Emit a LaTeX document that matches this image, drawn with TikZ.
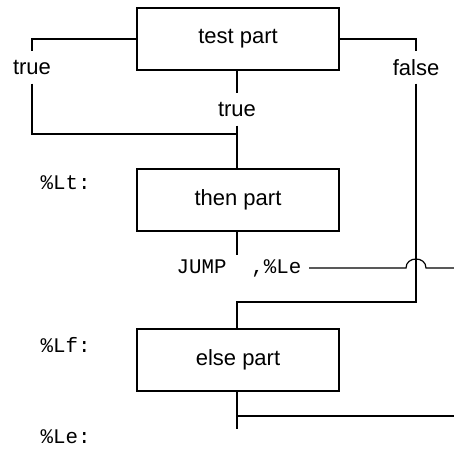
\documentclass[tikz,border=0pt]{standalone}
\usepackage{fontspec}
\setmainfont{Liberation Sans}
\newfontfamily\codefont{Liberation Mono}
\begin{document}
\begin{tikzpicture}[x=1pt,y=-1pt,line width=1.2pt,
  part/.style={draw,minimum width=202pt,minimum height=62pt,inner sep=0pt,font=\fontsize{22}{24}\selectfont},
  lbl/.style={inner sep=0pt,minimum height=31pt,font=\fontsize{22}{24}\selectfont},
  code/.style={inner sep=0pt,font=\codefont\fontsize{20.8}{22}\selectfont}]
\useasboundingbox (0,0) rectangle (454,450);
% boxes
\node[part] (test) at (238,39) {test part};
\node[part] (then) at (238,200) {then part};
\node[part] (else) at (238,360) {else part};
% branch labels
\node[lbl] (ltrue) at (32,67.5) {true};
\node[lbl] (mtrue) at (237,109.5) {true};
\node[lbl] (lfalse) at (416,67.5) {false};
% code labels
\node[code,anchor=west] (lt) at (40,183) {\%Lt:};
\node[code,anchor=west] (lf) at (40,345) {\%Lf:};
\node[code,anchor=west] (le) at (40,437) {\%Le:};
\node[code,inner xsep=7pt] (jump) at (239,268) {JUMP\ \ ,\%Le};
% coordinates
\coordinate (j1) at (237,134);
\coordinate (c1) at (416,302);
\coordinate (jtop) at (237,255);
\coordinate (hs) at (406,268);
\coordinate (he) at (426,268);
\coordinate (jend) at (454,268);
\coordinate (eend) at (237,429);
\coordinate (j2) at (237,416);
\coordinate (rend) at (454,416);
% connectors
\draw (test.west) -| (ltrue.north);
\draw (ltrue.south) |- (j1);
\draw (test.south -| mtrue.north) -- (mtrue.north);
\draw (mtrue.south) -- (then.north -| mtrue.south);
\draw (test.east) -| (lfalse.north);
\draw (lfalse.south) -- (c1) -| (else.north -| j1);
\draw (then.south -| jtop) -- (jtop);
\draw (jump.east) -- (hs) .. controls ([yshift=12pt]hs) and ([yshift=12pt]he) .. (he) -- (jend);
\draw (else.south -| eend) -- (eend);
\draw (j2) -- (rend);
\end{tikzpicture}
\end{document}
